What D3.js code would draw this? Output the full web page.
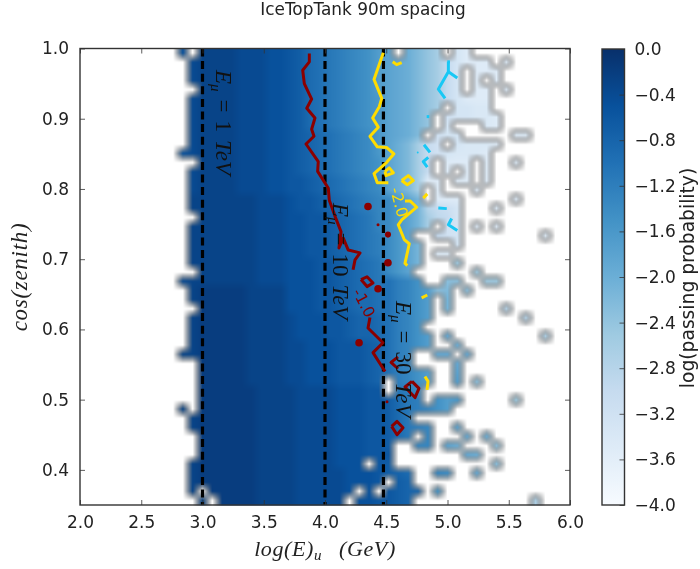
<!DOCTYPE html>
<html><head><meta charset="utf-8">
<script src="https://cdn.jsdelivr.net/npm/d3@7"></script>
<style>
html,body{margin:0;padding:0;background:#fff}
svg{display:block;filter:blur(0.35px)}
text{fill:#222}
</style></head><body><svg id="c" width="700" height="569"></svg>
<script>
// log10(passing probability) per cell: base-36 digit = tenths below zero, "." = empty bin
// rows run from cos(zenith)=1.0 downward, columns from log(E)=2.0 rightward
const heatRows = [
"..........5.333344455679abcdefhi.kmoq.xz..........",
"...........4333344455679abcdefhijkmoquxzzz.z......",
"...........4333344455679abcdefhijkmoqux.zzz.......",
"...........4333344455679abcdefhijkmoqux.z.z.......",
"............333344455679abcdefhijkmoqux.zz.z......",
"...........4333344455679abcdefgijkmoquxzzz........",
"...........4333344455679abcdefgijkmoq.xxyy........",
"...........4333344455679abcdefgijkmo.wxxyyz.......",
"...........4333344455679abcdefgijkmo.x...yz.......",
"...........43333444556789abcdegijkm.wxx.....zz....",
"...........43333444556789abcdegikmquw.xyyyz.......",
"..........543333444556789abcdegikmquwxyyyz........",
"............3333444556789abcdefikmqu.zzz.z..z.....",
"...........43333444556789abcdefikmqu.z.z.z........",
"...........433334445566789abcdeikmqzz.zz.z........",
"...........433334445566789abcdeikmq.z...z.........",
"...........3333333444566789abcdegil.zzz.....z.....",
"...........3333333444566789abcdegilsuvx...z.......",
"............3333334445566789abdegilqtux...........",
"...........33333334445566789abdegilq.wx.z.z.......",
"...........33333334445566789abcegi..uwx........z..",
"...........33333334445566789abcegil...x...........",
"...........33333334445566789abcegil.zz............",
"...........333333344455566789abegil...p...........",
"............33333344455566789abegi......p.........",
"..........4333333344455566789abacdf..nn..pp.......",
"...........3222223333555667899aacdfhnm.n..........",
"...........3222223333555667899aacdfh.l............",
"............222223333555667899aacdfh.l.....s......",
"...........32222233334555667889acdfh.........s....",
"...........32222233334555667889acdf...............",
"...........32222233334555667889acdfh.j.........r..",
"...........32222233334455566678acdfh..k...........",
"..........332222233334455566678acd..jj.j..........",
"............222223333 4455566678acd....j...........".replace(" ",""),
"............222223333 4455566678acdfh..i...........".replace(" ",""),
"............222223333 4455566678.cdfh..h.n.........".replace(" ",""),
"............222222333 3444455566.bce...............".replace(" ",""),
"............222222333 344445556679bc.fhg.....p.....".replace(" ",""),
"..........3.222222333 344445556679bcdfh............".replace(" ",""),
"...........3222222333344445556679b................",
"...........3222222333344445556679bcd..i...........",
"............222222333 344445556679b.d...j.k........".replace(" ",""),
"............222222333 34444555667..dd.ik...n.......".replace(" ",""),
"............222222333 34444555666.......jk.........".replace(" ",""),
"...........322222233334444555.67..........n.......",
"...........32222223333444445556789..de..j.........",
"...........3222222333344444555 6.78................".replace(" ",""),
"...........3.22222333 3444445.5.6788.f.............".replace(" ",""),
"............3.2222333 344444.556678............r...".replace(" ","")
];
const nCols = 50, nRows = 50;
const xTicks = [2.0,2.5,3.0,3.5,4.0,4.5,5.0,5.5,6.0];
const yTicks = [1.0,0.9,0.8,0.7,0.6,0.5,0.4];
const cbTicks = [0,-0.4,-0.8,-1.2,-1.6,-2.0,-2.4,-2.8,-3.2,-3.6,-4.0];
const blues = ["#f7fbff","#deebf7","#c6dbef","#9ecae1","#6baed6","#4292c6","#2171b5","#08519c","#08306b"];
const energyLines = [3,4,4.477];

// contour traces [log(E), cos(zenith)]
const redLines = [
 [[3.872,.993],[3.872,.981],[3.818,.969],[3.831,.950],[3.891,.928],[3.851,.915],[3.918,.901],[3.891,.885],[3.910,.875],[3.845,.864],[3.945,.839],[3.940,.825],[4.027,.801],[4.035,.784],[4.082,.761],[4.131,.739],[4.114,.716],[4.149,.730],[4.190,.713],[4.286,.709],[4.245,.699],[4.229,.685]],
 [[4.367,.617],[4.351,.602],[4.473,.581],[4.392,.567],[4.490,.540]],
 [[4.294,.671],[4.343,.675],[4.392,.666],[4.343,.661],[4.294,.671]],
 [[4.596,.561],[4.539,.553],[4.596,.544]],
 [[4.710,.526],[4.653,.518],[4.735,.503],[4.767,.516],[4.710,.526]],
 [[4.544,.462],[4.588,.469],[4.637,.460],[4.588,.450],[4.544,.462]]
];
const redDots = [[4.351,.775,1],[4.433,.749,.4],[4.514,.735,.8],[4.514,.695,1],[4.433,.658,1],[4.278,.581,1],[4.506,.497,.4]];
const yellowLines = [
 [[4.476,.994],[4.400,.956],[4.463,.929],[4.443,.917],[4.389,.901],[4.435,.888],[4.367,.875],[4.427,.860],[4.504,.859],[4.563,.850],[4.504,.838],[4.400,.822],[4.427,.809],[4.517,.809]],
 [[4.490,.825],[4.525,.830],[4.558,.823],[4.498,.819],[4.490,.825]],
 [[4.626,.812],[4.680,.819],[4.721,.812],[4.672,.806],[4.626,.812]],
 [[4.553,.981],[4.585,.977],[4.626,.980]],
 [[4.802,.787],[4.835,.793]],
 [[4.653,.783],[4.694,.783],[4.749,.774],[4.626,.756],[4.598,.749],[4.647,.728],[4.688,.722],[4.653,.694],[4.672,.691]],
 [[4.789,.645],[4.835,.649]],
 [[4.816,.533],[4.841,.526],[4.833,.514]]
];
const cyanLines = [
 [[4.998,.981],[5.020,.981]],
 [[5.007,.981],[5.007,.967],[4.925,.942],[4.980,.929]],
 [[5.007,.967],[5.080,.958]],
 [[4.830,.903],[4.851,.903]],
 [[4.808,.863],[4.857,.852]],
 [[4.843,.845],[4.802,.839],[4.835,.831]],
 [[4.925,.773],[4.994,.772]],
 [[5.034,.758],[5.007,.749],[5.080,.741]]
];
const cyanDots = [[4.757,.852,.25]];

const L=80,R=570,T=48.5,B=505;
const x = d3.scaleLinear().domain([2,6]).range([L,R]);
const y = d3.scaleLinear().domain([0.35,1]).range([B,T]);
const color = d3.scaleLinear().domain(blues.map((_,i)=>-4+i*0.5)).range(blues);
const cellW=(6-2)/nCols, cellH=(1-0.35)/nRows;

const grid = heatRows.map(s=>Array.from({length:nCols},(_,i)=>{
  const ch=s[i]; if(!ch||ch===".") return [0,0,0,0];
  const c=d3.rgb(color(-parseInt(ch,36)/10)); return [c.r,c.g,c.b,1];
}));

// bilinear resample in straight RGBA: empty bins pull both colour and opacity down, which makes the grey rims
const W=R-L, H=Math.round(B-T);
const cv=document.createElement("canvas"); cv.width=W; cv.height=H;
const ctx=cv.getContext("2d"); const img=ctx.createImageData(W,H);
for(let py=0;py<H;py++){
  const v=(1-y.invert(T+py+.5))/cellH-.5;
  const j0=Math.max(0,Math.min(nRows-1,Math.floor(v))), j1=Math.min(nRows-1,Math.max(0,Math.floor(v)+1)), fy=Math.max(0,Math.min(1,v-Math.floor(v)));
  for(let px=0;px<W;px++){
    const u=(x.invert(L+px+.5)-2)/cellW-.5;
    const i0=Math.max(0,Math.floor(u)), i1=Math.min(nCols-1,Math.floor(u)+1), fx=Math.max(0,Math.min(1,u-Math.floor(u)));
    const a=grid[j0][Math.min(i0,nCols-1)],b=grid[j0][i1],c=grid[j1][Math.min(i0,nCols-1)],d=grid[j1][i1];
    const mix=k=>(a[k]*(1-fx)+b[k]*fx)*(1-fy)+(c[k]*(1-fx)+d[k]*fx)*fy;
    const al=mix(3), o=(py*W+px)*4;
    img.data[o]=mix(0)*al+255*(1-al);
    img.data[o+1]=mix(1)*al+255*(1-al);
    img.data[o+2]=mix(2)*al+255*(1-al);
    img.data[o+3]=255;
  }
}
ctx.putImageData(img,0,0);

const svg=d3.select("#c");
const sans="'DejaVu Sans',sans-serif", serif="'Liberation Serif',serif";
svg.append("image").attr("x",L).attr("y",T).attr("width",W).attr("height",H).attr("preserveAspectRatio","none").attr("href",cv.toDataURL());

const line=d3.line().x(d=>x(d[0])).y(d=>y(d[1]));
const plot=svg.append("g").attr("fill","none").attr("stroke-linejoin","round");
plot.selectAll(".e").data(energyLines).join("line").attr("x1",d=>x(d)).attr("x2",d=>x(d)).attr("y1",T).attr("y2",B)
  .attr("stroke","#000").attr("stroke-width",3.2).attr("stroke-dasharray","8 4.6");
function drawLines(data,col,w){plot.append("g").selectAll("path").data(data).join("path").attr("d",line).attr("stroke",col).attr("stroke-width",w);}
drawLines(cyanLines,"#18c8f5",3);
drawLines(yellowLines,"#ffdc00",3);
drawLines(redLines,"#8b0000",3);
function drawDots(data,col){plot.append("g").selectAll("circle").data(data).join("circle").attr("cx",d=>x(d[0])).attr("cy",d=>y(d[1])).attr("r",d=>d[2]*3.8).attr("fill",col).attr("stroke","none");}
drawDots(redDots,"#8b0000");
drawDots(cyanDots,"#18c8f5");

// in-plot labels
function mathLabel(px,py,val){
  const t=svg.append("text").attr("transform",`translate(${px},${py}) rotate(90)`).attr("font-family",serif).attr("font-size",23).style("fill","#111");
  t.append("tspan").attr("font-style","italic").text("E");
  t.append("tspan").attr("font-style","italic").attr("font-size",15).attr("dy",5).text("μ");
  t.append("tspan").attr("dy",-5).attr("dx",8).text("=");
  t.append("tspan").attr("dx",8).text(val);
  t.append("tspan").attr("font-style","italic").attr("dx",8).text("TeV");
}
mathLabel(216,70,"1");
mathLabel(333,203,"10");
mathLabel(396,301,"30");
svg.append("text").attr("transform","translate(390,189) rotate(75)").attr("font-family",sans).attr("font-size",15.5).style("fill","#ffdc00").text("-2.0");
svg.append("text").attr("transform","translate(352,292) rotate(62)").attr("font-family",sans).attr("font-size",15.5).style("fill","#8b0000").text("-1.0");

// axes
function styleAxis(g){
  g.select(".domain").remove();
  g.selectAll(".tick line").attr("stroke","#333").attr("stroke-width",.8);
  g.selectAll(".tick text").attr("font-family",sans).attr("font-size",17).style("fill","#222");
}
const fmt=d3.format(".1f");
svg.append("g").attr("transform",`translate(0,${B})`).call(d3.axisBottom(x).tickValues(xTicks).tickFormat(fmt).tickSizeInner(-5).tickPadding(11)).call(styleAxis);
svg.append("g").attr("transform",`translate(${L},0)`).call(d3.axisLeft(y).tickValues(yTicks).tickFormat(fmt).tickSizeInner(-5).tickPadding(11)).call(styleAxis);
svg.append("g").attr("transform",`translate(0,${T})`).call(d3.axisTop(x).tickValues(xTicks).tickFormat("").tickSizeInner(-5)).call(styleAxis);
svg.append("g").attr("transform",`translate(${R},0)`).call(d3.axisRight(y).tickValues(yTicks).tickFormat("").tickSizeInner(-5)).call(styleAxis);
svg.append("rect").attr("x",L).attr("y",T).attr("width",R-L).attr("height",B-T).attr("fill","none").attr("stroke","#333").attr("stroke-width",1.4);

// titles
svg.append("text").attr("x",363).attr("y",15).attr("text-anchor","middle").attr("font-family",sans).attr("font-size",16.9).text("IceTopTank 90m spacing");
const xl=svg.append("text").attr("x",325).attr("y",556).attr("text-anchor","middle").attr("font-family",serif).attr("font-style","italic").attr("font-size",22).attr("letter-spacing",.6);
xl.append("tspan").text("log(E)");
xl.append("tspan").attr("font-size",15).attr("dy",4).text("u");
xl.append("tspan").attr("dy",-4).attr("dx",17).text("(GeV)");
svg.append("text").attr("transform","translate(27,277) rotate(-90)").attr("text-anchor","middle").attr("font-family",serif).attr("font-style","italic").attr("font-size",23).attr("letter-spacing",.7).text("cos(zenith)");

// colour bar
const cbL=602,cbR=624.5,cbT=49,cbB=505;
const cb=d3.scaleLinear().domain([-4,0]).range([cbB,cbT]);
const grad=svg.append("defs").append("linearGradient").attr("id","cbg").attr("x1",0).attr("x2",0).attr("y1",1).attr("y2",0);
grad.selectAll("stop").data(blues).join("stop").attr("offset",(d,i)=>i/8).attr("stop-color",d=>d);
svg.append("rect").attr("x",cbL).attr("y",cbT).attr("width",cbR-cbL).attr("height",cbB-cbT).attr("fill","url(#cbg)");
svg.append("g").attr("transform",`translate(${cbR},0)`).call(d3.axisRight(cb).tickValues(cbTicks).tickFormat(fmt).tickSizeInner(-5).tickPadding(10)).call(styleAxis);
svg.append("rect").attr("x",cbL).attr("y",cbT).attr("width",cbR-cbL).attr("height",cbB-cbT).attr("fill","none").attr("stroke","#333").attr("stroke-width",1.4);
svg.append("text").attr("transform","translate(694,278) rotate(-90)").attr("text-anchor","middle").attr("font-family",sans).attr("font-size",18.7).text("log(passing probability)");
</script></body></html>
